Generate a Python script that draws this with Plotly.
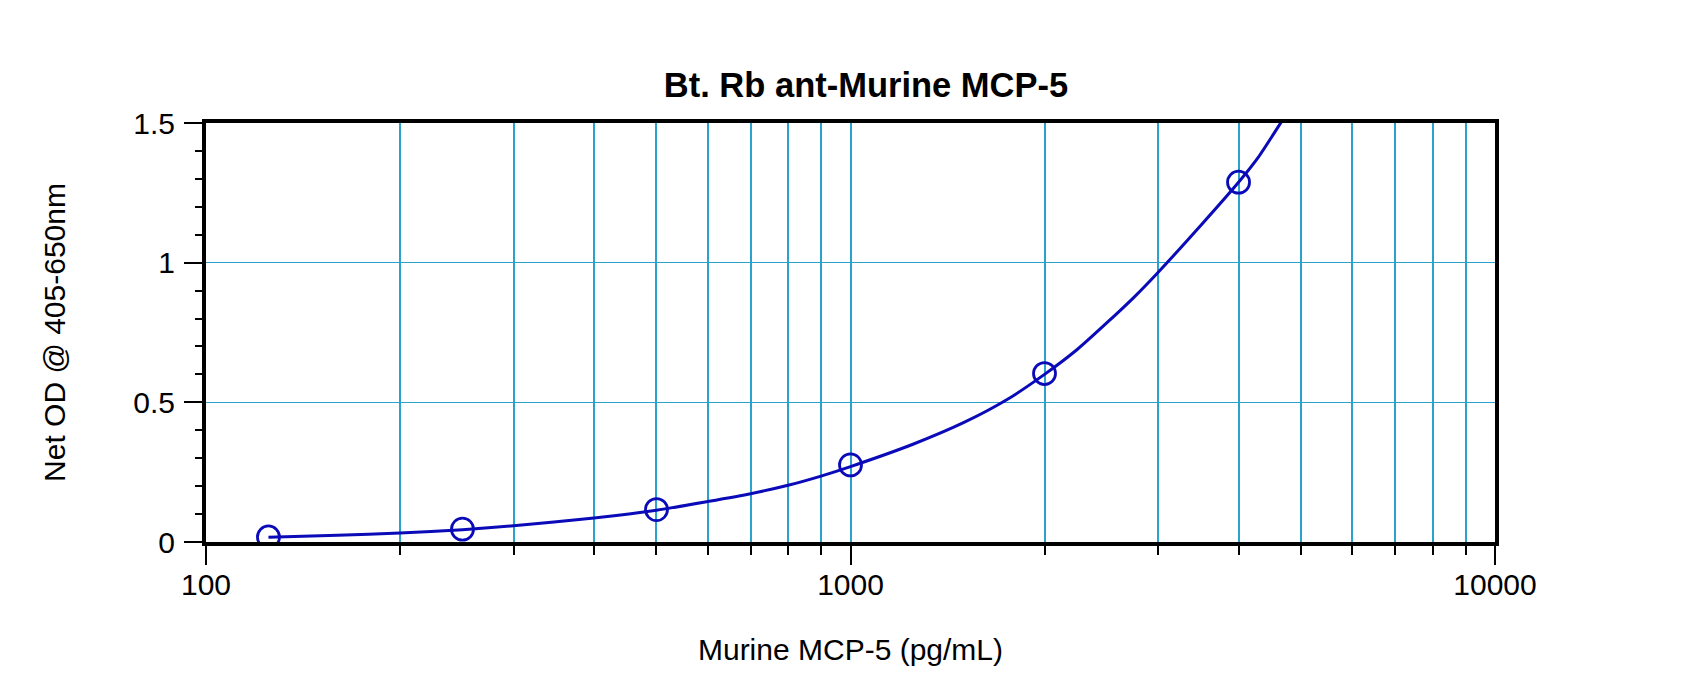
import plotly.graph_objects as go

# Standards (measured points)
conc = [125, 250, 500, 1000, 2000, 4000]
od = [0.018, 0.046, 0.116, 0.276, 0.603, 1.288]

# Fitted curve
curve_x = [125, 160, 200, 250, 300, 400, 500, 600, 700, 800, 900, 1000,
           1250, 1500, 1750, 2000, 2250, 2500, 2750, 3000, 3500, 4000, 4300, 4650, 4800]
curve_y = [0.017, 0.024, 0.032, 0.044, 0.058, 0.086, 0.114, 0.145, 0.173, 0.203,
           0.236, 0.27, 0.35, 0.428, 0.51, 0.6, 0.69, 0.785, 0.875, 0.965,
           1.135, 1.288, 1.38, 1.5, 1.55]

x_major = [100, 1000, 10000]
x_major_text = ["100", "1000", "10000"]
x_minor = [200, 300, 400, 500, 600, 700, 800, 900,
           2000, 3000, 4000, 5000, 6000, 7000, 8000, 9000]

title_text = "Bt. Rb ant-Murine MCP-5"
x_title = "Murine MCP-5 (pg/mL)"
y_title = "Net OD @ 405-650nm"

BLUE = "#0a0ab8"
GRID = "#2aa2cc"
FONT = "Liberation Sans, Arial, sans-serif"

fig = go.Figure()
fig.add_trace(go.Scatter(x=curve_x, y=curve_y, mode="lines",
                         line=dict(color=BLUE, width=3, shape="spline", smoothing=0.6),
                         hoverinfo="skip", showlegend=False))
fig.add_trace(go.Scatter(x=conc, y=od, mode="markers",
                         marker=dict(symbol="circle-open", size=22, color=BLUE,
                                     line=dict(color=BLUE, width=2.8)),
                         showlegend=False))

fig.update_layout(
    width=1700, height=689,
    margin=dict(l=198, r=213, t=115, b=155),
    paper_bgcolor="white", plot_bgcolor="white",
    font=dict(family=FONT, size=30, color="black"),
    title=dict(text="<b>" + title_text + "</b>", x=858 / 1700, xref="container",
               xanchor="center", y=1 - 77 / 689, yref="container", yanchor="middle",
               font=dict(family=FONT, size=34.5, color="black")),
)

fig.update_xaxes(
    type="log", range=[2, 4],
    tickmode="array", tickvals=x_major, ticktext=x_major_text,
    ticks="outside", ticklen=19, tickwidth=2, tickcolor="black",
    ticklabelstandoff=-6,
    showline=True, linewidth=4, linecolor="black", mirror=True,
    showgrid=True, gridcolor=GRID, gridwidth=2,
    minor=dict(tickmode="array", tickvals=x_minor, ticks="outside", ticklen=9,
               tickwidth=2, tickcolor="black", showgrid=True,
               gridcolor=GRID, gridwidth=2),
    tickfont=dict(family=FONT, size=30),
    title=dict(text=x_title, standoff=40, font=dict(family=FONT, size=30)),
    zeroline=False,
)

fig.update_yaxes(
    range=[0, 1.5], tickmode="array", tickvals=[0, 0.5, 1, 1.5],
    ticktext=["0", "0.5", "1", "1.5"],
    ticks="outside", ticklen=18, tickwidth=2, tickcolor="black",
    ticklabelstandoff=3,
    showline=True, linewidth=4, linecolor="black", mirror=True,
    showgrid=True, gridcolor=GRID, gridwidth=1.2,
    minor=dict(dtick=0.1, ticks="outside", ticklen=7, tickwidth=2,
               tickcolor="black", showgrid=False),
    tickfont=dict(family=FONT, size=30),
    title=dict(text=y_title, standoff=60, font=dict(family=FONT, size=30)),
    zeroline=False,
)

fig.write_html("out.html")
